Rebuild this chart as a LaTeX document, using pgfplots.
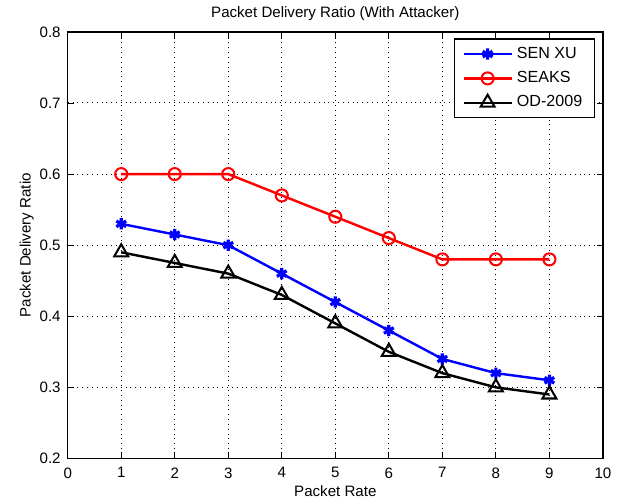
\documentclass[border=0pt]{standalone}
\usepackage{fontspec}
\setmainfont{Liberation Sans}
\usepackage{pgfplots}
\pgfplotsset{compat=1.18}

\begin{document}
\begin{tikzpicture}
\begin{axis}[
  scale only axis,
  width=266pt, height=212pt,
  xmin=0, xmax=10, ymin=0.2, ymax=0.8,
  xtick={0,1,...,10},
  ytick={0.2,0.3,...,0.8},
  yticklabel style={/pgf/number format/fixed,/pgf/number format/precision=1,/pgf/number format/fixed zerofill},
  xticklabel style={yshift=-1pt},
  /pgf/number format/assume math mode=true,
  tick align=inside,
  tick style={black, line width=0.4pt},
  major tick length=3pt,
  axis line style={line width=0.6pt},
  grid=major,
  grid style={black, dotted, line width=0.5pt},
  font=\fontsize{7.5}{9}\selectfont,
  title={Packet Delivery Ratio (With Attacker)},
  title style={yshift=-4pt},
  xlabel={Packet Rate},
  ylabel={Packet Delivery Ratio},
  xlabel style={yshift=3pt},
  ylabel style={yshift=-4pt},
  legend style={at={(0.985,0.985)}, anchor=north east, draw=black,
    line width=0.6pt, font=\fontsize{8}{10}\selectfont, cells={anchor=west},
    row sep=1pt, inner xsep=4pt},
  legend cell align=left,
  legend image code/.code={\draw[mark repeat=2,mark phase=2] plot coordinates {(0cm,0cm)(0.42cm,0cm)(0.84cm,0cm)};},
]
\addplot[blue, line width=1.2pt, mark=asterisk, mark size=2.8pt, mark options={line width=1.6pt}]
  coordinates {(1,0.53)(2,0.515)(3,0.50)(4,0.46)(5,0.42)(6,0.38)(7,0.34)(8,0.32)(9,0.31)};
\addplot[red, line width=1.2pt, mark=o, mark size=3pt, mark options={line width=1pt}]
  coordinates {(1,0.60)(2,0.60)(3,0.60)(4,0.57)(5,0.54)(6,0.51)(7,0.48)(8,0.48)(9,0.48)};
\addplot[black, line width=1.2pt, mark=triangle, mark size=4pt, mark options={line width=1pt}]
  coordinates {(1,0.49)(2,0.475)(3,0.46)(4,0.43)(5,0.39)(6,0.35)(7,0.32)(8,0.30)(9,0.29)};
\legend{SEN XU, SEAKS, OD-2009}
\end{axis}
\path (current axis.outer south west) ++(-6.5pt,0pt);
\end{tikzpicture}
\end{document}
